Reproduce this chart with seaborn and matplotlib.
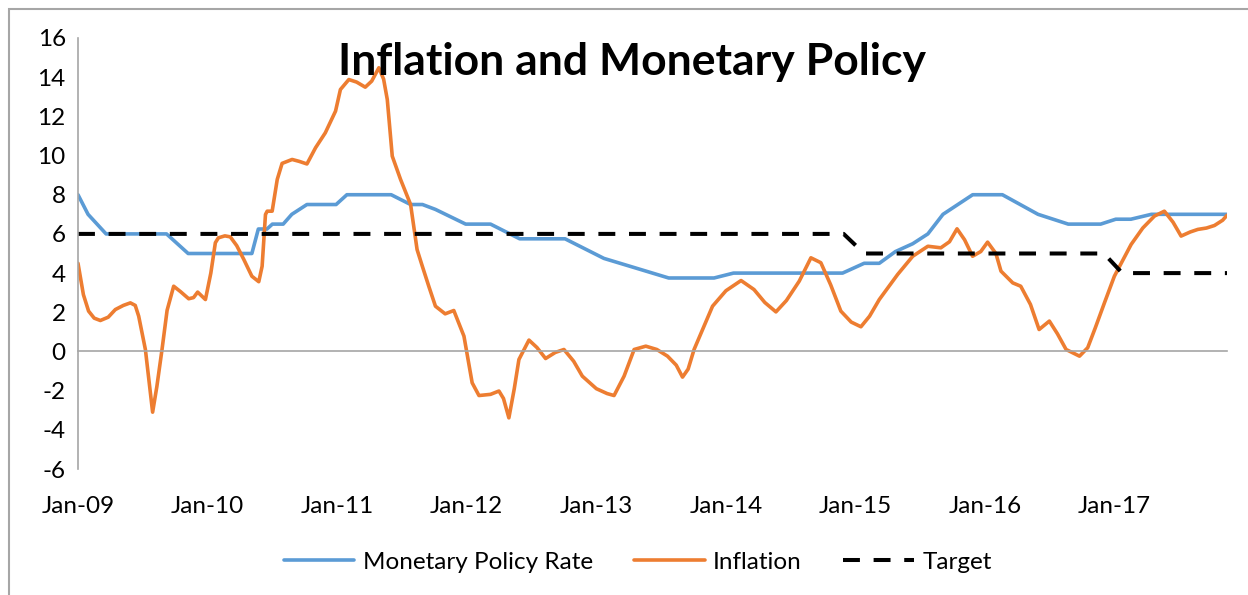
import matplotlib
matplotlib.use("Agg")
import matplotlib.pyplot as plt
import matplotlib.patches as patches
import seaborn as sns
import pandas as pd

# x positions are months since Jan-09
year_labels = ["Jan-09", "Jan-10", "Jan-11", "Jan-12", "Jan-13",
               "Jan-14", "Jan-15", "Jan-16", "Jan-17"]
year_ticks = [0, 12, 24, 36, 48, 60, 72, 84, 96]

rate_month = [0, 0.93, 2.6, 8.2, 10.2, 16.1, 16.7, 17.5, 18, 19, 19.8, 21.2,
              23.9, 24.9, 29.0, 30.8, 31.9, 33.1, 35.9, 38.2, 40.9, 45.1,
              48.7, 54.7, 58.9, 60.7, 70.8, 72.8, 74.2, 75.7, 77.3, 78.7,
              80.1, 82.85, 85.6, 88.9, 91.7, 94.7, 96.1, 97.5, 99.4, 106.4]
rate_value = [8.0, 7.0, 6.0, 6.0, 5.0, 5.0, 6.25, 6.25, 6.5, 6.5, 7.0, 7.5,
              7.5, 8.0, 8.0, 7.5, 7.5, 7.25, 6.5, 6.5, 5.75, 5.75,
              4.75, 3.75, 3.75, 4.0, 4.0, 4.5, 4.5, 5.1, 5.5, 6.0,
              7.0, 8.0, 8.0, 7.0, 6.5, 6.5, 6.75, 6.75, 7.0, 7.0]

infl_month = [0, 0.5, 0.98, 1.5, 2.07, 2.8, 3.46, 4.2, 4.85, 5.3, 5.62, 6.24,
              6.6, 6.91, 7.3, 7.78, 8.25, 8.86, 9.5, 10.25, 10.7, 11.08,
              11.8, 12.3, 12.72, 13.0, 13.6, 14.1, 14.7, 15.35, 16.1, 16.74,
              17.05, 17.36, 17.52, 17.98, 18.45, 18.9, 19.83, 20.5, 21.2,
              22.0, 22.9, 23.85, 24.3, 25.08, 25.8, 26.6, 27.2, 27.86, 28.3,
              28.64, 29.1, 29.87, 30.8, 31.4, 31.88, 32.5, 33.1, 34.0, 34.8,
              35.74, 36.5, 37.13, 38.2, 38.98, 39.4, 39.9, 40.4, 40.83, 41.76,
              42.5, 43.3, 44.2, 45.0, 45.9, 46.7, 48.0, 49.0, 49.64, 50.57,
              51.5, 52.58, 53.6, 54.59, 55.4, 55.98, 56.5, 57.05, 58.76,
              60.0, 61.4, 62.6, 63.6, 64.63, 65.6, 66.79, 67.87, 68.79,
              69.7, 70.64, 71.6, 72.5, 73.3, 74.2, 75.9, 77.3, 78.7, 79.9,
              80.7, 81.4, 82.1, 82.84, 83.6, 84.23, 85.0, 85.47, 86.56, 87.3,
              88.2, 89.0, 89.95, 90.7, 91.5, 92.74, 93.5, 94.2, 95.05, 95.97,
              97.52, 98.6, 99.68, 100.6, 101.4, 102.15, 103.0, 103.7, 104.5,
              105.24, 106.0, 106.4]
infl_value = [4.5, 2.9, 2.06, 1.7, 1.58, 1.75, 2.14, 2.35, 2.48, 2.35, 1.8, 0.1,
              -1.6, -3.1, -1.8, 0.1, 2.1, 3.33, 3.05, 2.69, 2.75, 3.03,
              2.65, 4.0, 5.55, 5.8, 5.9, 5.85, 5.4, 4.7, 3.84, 3.56,
              4.35, 6.99, 7.16, 7.16, 8.78, 9.6, 9.8, 9.7, 9.57,
              10.4, 11.16, 12.27, 13.37, 13.88, 13.75, 13.49, 13.8, 14.48, 13.9,
              12.86, 9.97, 8.78, 7.5, 5.2, 4.36, 3.3, 2.31, 1.92, 2.09,
              0.78, -1.6, -2.25, -2.19, -2.02, -2.4, -3.39, -1.9, -0.41, 0.58,
              0.2, -0.36, -0.05, 0.1, -0.5, -1.26, -1.9, -2.15, -2.25, -1.26,
              0.1, 0.27, 0.1, -0.24, -0.7, -1.31, -0.9, 0.1, 2.31,
              3.1, 3.62, 3.16, 2.5, 2.02, 2.6, 3.59, 4.78, 4.53,
              3.4, 2.06, 1.5, 1.26, 1.8, 2.65, 3.93, 4.86, 5.37, 5.29,
              5.6, 6.26, 5.7, 4.86, 5.1, 5.58, 5.0, 4.1, 3.5, 3.33,
              2.4, 1.12, 1.55, 0.9, 0.1, -0.24, 0.19, 1.2, 2.48, 3.84,
              5.46, 6.3, 6.91, 7.16, 6.6, 5.89, 6.1, 6.23, 6.3,
              6.43, 6.7, 6.95]

target_month = [0, 70.9, 72.8, 95.0, 96.7, 106.4]
target_value = [6.0, 6.0, 5.0, 5.0, 4.0, 4.0]

sns.set_theme(style="white")
plt.rcParams["font.family"] = ["Lato", "DejaVu Sans"]
plt.rcParams["axes.unicode_minus"] = False
plt.rcParams["text.color"] = "black"

fig = plt.figure(figsize=(12.48, 5.95), dpi=100)
ax = fig.add_axes([78 / 1248, 1 - 469 / 595, (1227 - 78) / 1248, (469 - 38) / 595])

rate_df = pd.DataFrame({"month": rate_month, "value": rate_value})
infl_df = pd.DataFrame({"month": infl_month, "value": infl_value})
target_df = pd.DataFrame({"month": target_month, "value": target_value})

sns.lineplot(data=rate_df, x="month", y="value", ax=ax, color="#5B9BD5",
             linewidth=2.6, estimator=None, label="Monetary Policy Rate")
sns.lineplot(data=infl_df, x="month", y="value", ax=ax, color="#ED7D31",
             linewidth=2.6, estimator=None, label="Inflation")
sns.lineplot(data=target_df, x="month", y="value", ax=ax, color="black",
             linewidth=2.9, estimator=None, linestyle=(0, (4.2, 3.4)),
             label="Target")
for ln in ax.lines:
    ln.set_solid_capstyle("round")
    ln.set_solid_joinstyle("round")

ax.set_xlim(0, 106.4)
ax.set_ylim(-6, 16)
ax.set_yticks(range(-6, 17, 2))
ax.set_xticks(year_ticks)
ax.set_xticklabels(year_labels)
ax.set_xlabel("")
ax.set_ylabel("")

axis_gray = "#A6A6A6"
for side in ["top", "right"]:
    ax.spines[side].set_visible(False)
ax.spines["left"].set_color(axis_gray)
ax.spines["left"].set_linewidth(1.2)
ax.spines["bottom"].set_position(("data", 0))
ax.spines["bottom"].set_color(axis_gray)
ax.spines["bottom"].set_linewidth(1.2)
ax.tick_params(axis="y", direction="out", length=5.8, width=1.2,
               color=axis_gray, labelsize=17.5, pad=3, labelcolor="black")
ax.tick_params(axis="x", direction="out", length=5.8, width=1.2,
               color=axis_gray, labelsize=17.5, pad=98, labelcolor="black")
ax.set_facecolor("none")

leg = ax.legend(loc="center", bbox_to_anchor=(0.511, 0.055),
                bbox_transform=fig.transFigure, ncol=3, frameon=False,
                fontsize=17.5, handlelength=2.9, handletextpad=0.35,
                columnspacing=1.7, labelcolor="black")

fig.text(632.5 / 1248, 1 - 75 / 595, "Inflation and Monetary Policy",
         ha="center", va="baseline", fontsize=32, fontweight="bold",
         color="black")

# outer chart border (left and top edges visible)
fig.add_artist(patches.Rectangle((9 / 1248, -0.1), 1.2, 1.1 - 9 / 595,
                                 transform=fig.transFigure, fill=False,
                                 edgecolor="#A6A6A6", linewidth=1.5))

fig.savefig("out.png", dpi=100)
